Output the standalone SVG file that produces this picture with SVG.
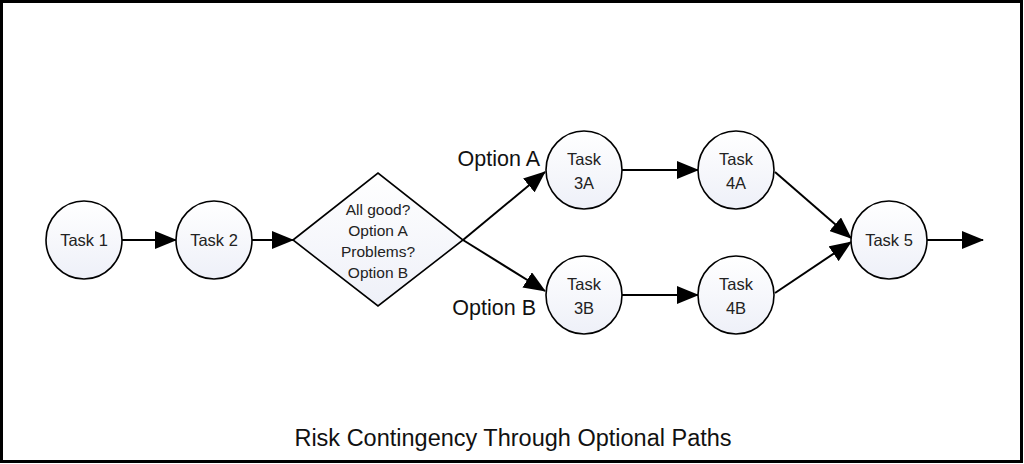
<svg xmlns="http://www.w3.org/2000/svg" width="1024" height="464" viewBox="0 0 1024 464">
<style>
.node{stroke:#000;stroke-width:1.6;fill:url(#g)}
.lbl{font-family:"Liberation Sans",Arial,sans-serif;font-size:16.5px;fill:#222;text-anchor:middle}
.dl{font-family:"Liberation Sans",Arial,sans-serif;font-size:15.5px;fill:#222;text-anchor:middle}
.opt{font-family:"Liberation Sans",Arial,sans-serif;font-size:21.5px;fill:#111}
.conn line{stroke:#000;stroke-width:2;marker-end:url(#ah)}
</style>
<defs>
<linearGradient id="g" x1="0" y1="0" x2="0" y2="1">
<stop offset="0" stop-color="#ffffff"/>
<stop offset="1" stop-color="#eef0f8"/>
</linearGradient>
<marker id="ah" markerUnits="userSpaceOnUse" markerWidth="22" markerHeight="18" viewBox="0 0 22 18" refX="21" refY="9" orient="auto">
<path d="M0,0 L22,9 L0,18 Z" fill="#000"/>
</marker>
</defs>
<rect x="0" y="0" width="1024" height="464" fill="#fff"/>
<rect x="1.5" y="1.5" width="1020" height="460" fill="none" stroke="#000" stroke-width="3"/>
<g class="conn" id="connectors">
<line x1="122" y1="240" x2="176" y2="240"/>
<line x1="252" y1="240" x2="293" y2="240"/>
<line x1="463" y1="240" x2="545" y2="172"/>
<line x1="463" y1="240" x2="545" y2="291"/>
<line x1="622" y1="170" x2="698" y2="170"/>
<line x1="622" y1="295" x2="698" y2="295"/>
<line x1="775" y1="172" x2="851" y2="238"/>
<line x1="775" y1="293" x2="851" y2="242"/>
<line x1="927" y1="240" x2="983" y2="240"/>
</g>
<g id="task1"><ellipse class="node" cx="84" cy="240" rx="38" ry="39"/><text class="lbl" x="84" y="246">Task 1</text></g>
<g id="task2"><ellipse class="node" cx="214" cy="240" rx="38" ry="39"/><text class="lbl" x="214" y="246">Task 2</text></g>
<g id="decision"><polygon class="node" points="293,240 378,173 463,240 378,306"/>
<text class="dl" x="378" y="215">All good?</text>
<text class="dl" x="378" y="236">Option A</text>
<text class="dl" x="378" y="257">Problems?</text>
<text class="dl" x="378" y="278">Option B</text></g>
<g id="task3a"><ellipse class="node" cx="584" cy="170" rx="38" ry="39"/><text class="lbl" x="584" y="165">Task</text><text class="lbl" x="584" y="189">3A</text></g>
<g id="task4a"><ellipse class="node" cx="736" cy="170" rx="38" ry="39"/><text class="lbl" x="736" y="165">Task</text><text class="lbl" x="736" y="189">4A</text></g>
<g id="task3b"><ellipse class="node" cx="584" cy="295" rx="38" ry="39"/><text class="lbl" x="584" y="290">Task</text><text class="lbl" x="584" y="314">3B</text></g>
<g id="task4b"><ellipse class="node" cx="736" cy="295" rx="38" ry="39"/><text class="lbl" x="736" y="290">Task</text><text class="lbl" x="736" y="314">4B</text></g>
<g id="task5"><ellipse class="node" cx="889" cy="240" rx="38" ry="39"/><text class="lbl" x="889" y="246">Task 5</text></g>
<text class="opt" x="540" y="166" text-anchor="end">Option A</text>
<text class="opt" x="536" y="315" text-anchor="end">Option B</text>
<text x="513" y="446" text-anchor="middle" style="font-family:'Liberation Sans',Arial,sans-serif;font-size:23.5px;fill:#111">Risk Contingency Through Optional Paths</text>
</svg>
